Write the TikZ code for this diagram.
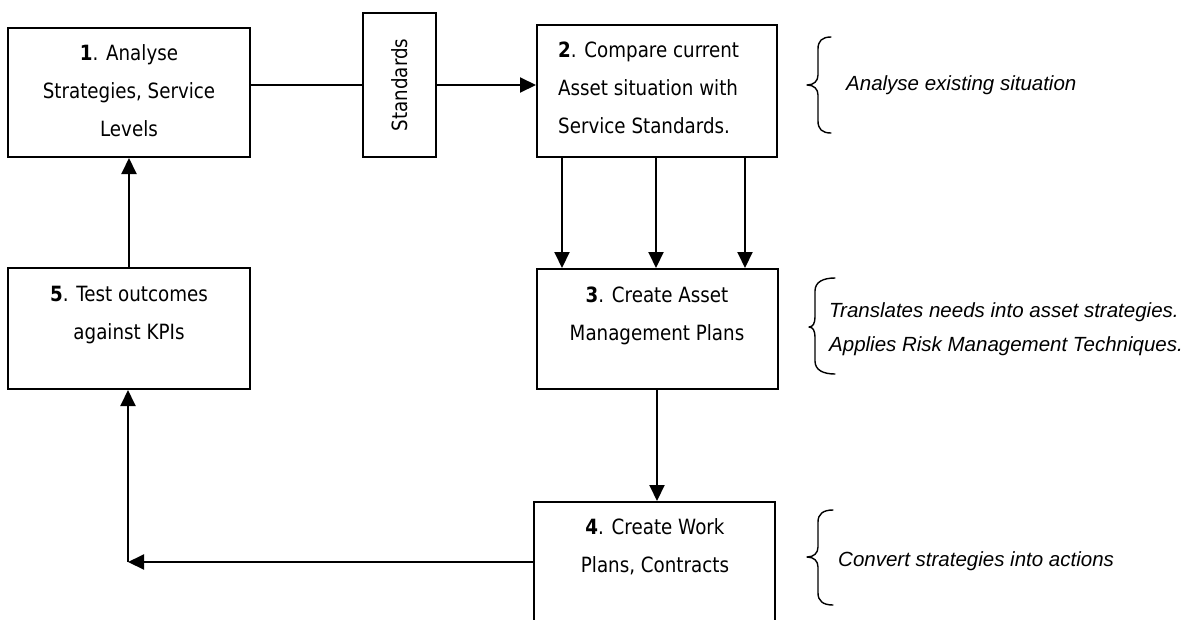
\documentclass[tikz,border=0pt]{standalone}
\usepackage{fontspec}
\usetikzlibrary{arrows.meta}
\newfontfamily\boxfont[FakeStretch=0.87]{DejaVu Sans}
\newfontfamily\notefont{Liberation Sans}

\begin{document}
\begin{tikzpicture}[x=1pt,y=-1pt,
  box/.style={draw, line width=2pt, rectangle, inner sep=0pt},
  boxtxt/.style={font=\boxfont\fontsize{21}{25}\selectfont, inner sep=0pt, anchor=base},
  notetxt/.style={font=\notefont\itshape\fontsize{20.5}{25}\selectfont, inner sep=0pt, anchor=base west},
  link/.style={line width=2pt},
  flow/.style={line width=2pt, -{Triangle[length=16pt,width=15pt]}},
  bracepen/.style={line width=1.4pt, line cap=round, line join=round}]

\useasboundingbox (0,0) rectangle (1199,619);
\clip (0,0) rectangle (1199,619);
\fill[white] (0,0) rectangle (1199,619);

% process boxes
\node[box, minimum width=242pt, minimum height=129pt] (b1) at (129,92.5) {};
\node[box, minimum width=73pt,  minimum height=144pt] (std) at (399.5,85) {};
\node[box, minimum width=240pt, minimum height=132pt] (b2) at (657,91) {};
\node[box, minimum width=241pt, minimum height=120pt] (b3) at (657.5,329) {};
\node[box, minimum width=241pt, minimum height=138pt] (b4) at (654.5,571) {};
\node[box, minimum width=242pt, minimum height=121pt] (b5) at (129,328.5) {};

% box texts
\node[boxtxt] (t1a) at (129,60) {\textbf{1}. Analyse};
\node[boxtxt] (t1b) at (129,98) {Strategies, Service};
\node[boxtxt] (t1c) at (129,136) {Levels};

\node[boxtxt, rotate=90, anchor=center] (tstd) at (std.center) {Standards};

\node[boxtxt, anchor=base west] (t2a) at (558,57) {\textbf{2}. Compare current};
\node[boxtxt, anchor=base west] (t2b) at (558,95) {Asset situation with};
\node[boxtxt, anchor=base west] (t2c) at (558,133) {Service Standards.};

\node[boxtxt] (t3a) at (657,302) {\textbf{3}. Create Asset};
\node[boxtxt] (t3b) at (657,340) {Management Plans};

\node[boxtxt] (t4a) at (655,534) {\textbf{4}. Create Work};
\node[boxtxt] (t4b) at (655,572) {Plans, Contracts};

\node[boxtxt] (t5a) at (129,301) {\textbf{5}. Test outcomes};
\node[boxtxt] (t5b) at (129,339) {against KPIs};

% connectors
\draw[link] (std.west -| b1.east) -- (std.west);
\draw[flow] (std.east) -- (std.east -| b2.west);

\draw[flow] ([xshift=-95pt]b2.south) -- ([xshift=-95pt]b2.south |- b3.north);
\draw[flow] ([xshift=-1pt]b2.south) -- ([xshift=-1pt]b2.south |- b3.north);
\draw[flow] ([xshift=88pt]b2.south) -- ([xshift=88pt]b2.south |- b3.north);

\draw[flow] ([xshift=-0.5pt]b3.south) -- ([xshift=-0.5pt]b3.south |- b4.north);

\coordinate (turn) at (128,562);
\draw[flow] (turn -| b4.west) -- (turn);
\draw[flow] (turn) -- (turn |- b5.south);
\draw[flow] (b5.north) -- (b1.south);

% braces with notes
\draw[bracepen] (831,37) .. controls (822,37) and (818,41) .. (818,49) -- (818,75)
  .. controls (818,81) and (814,85) .. (807,85)
  .. controls (814,85) and (818,89) .. (818,95) -- (818,121)
  .. controls (818,129) and (822,133) .. (831,133);
\node[notetxt] (n1) at (846,90) {Analyse existing situation};

\draw[bracepen] (835,278) .. controls (823,278) and (815,282) .. (815,291) -- (815,317)
  .. controls (815,323) and (813,327) .. (809,327)
  .. controls (813,327) and (815,331) .. (815,337) -- (815,361)
  .. controls (815,370) and (823,374) .. (835,374);
\node[notetxt] (n2a) at (829,317) {Translates needs into asset strategies.};
\node[notetxt] (n2b) at (829,351) {Applies Risk Management Techniques.};

\draw[bracepen] (833,510) .. controls (823,510) and (818,514) .. (818,522) -- (818,547)
  .. controls (818,553) and (814,557) .. (807,557)
  .. controls (814,557) and (818,561) .. (818,567) -- (818,593)
  .. controls (818,601) and (823,605) .. (833,605);
\node[notetxt] (n3) at (838,566) {Convert strategies into actions};

\end{tikzpicture}
\end{document}
